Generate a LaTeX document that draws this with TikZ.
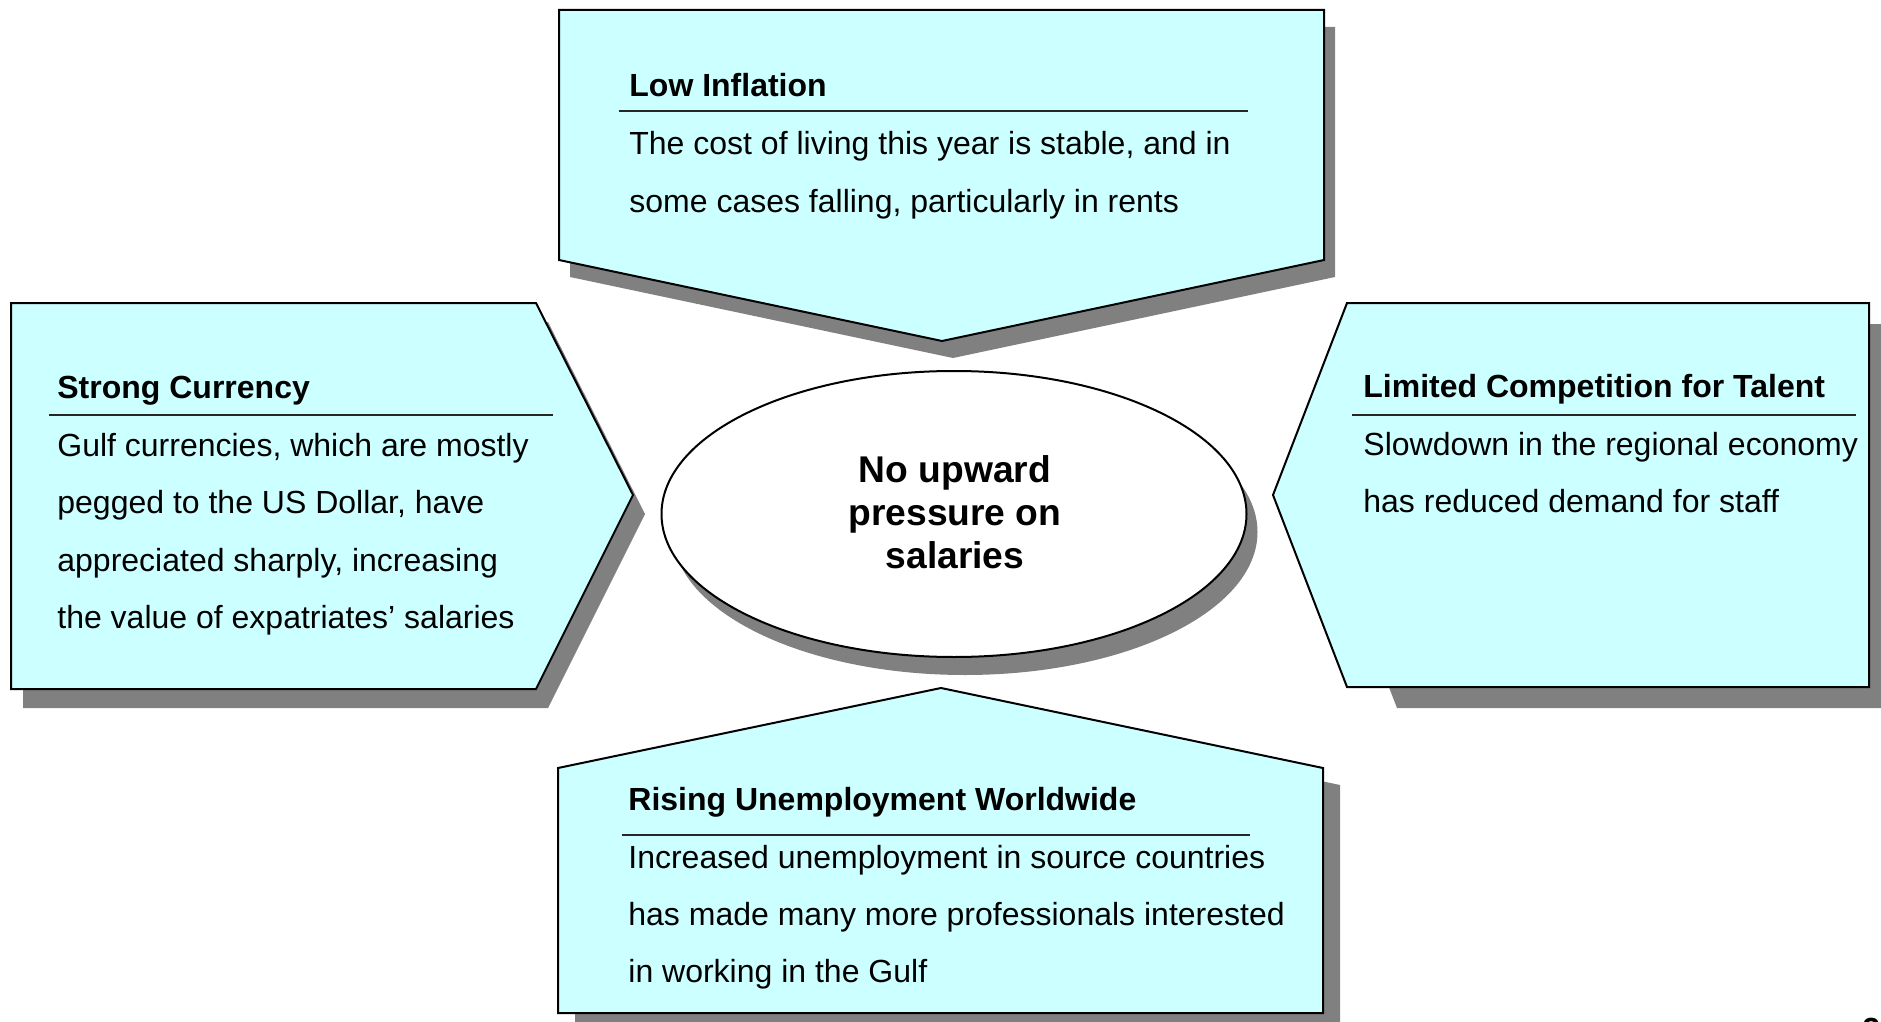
\documentclass[tikz,border=0pt]{standalone}
\usepackage{fontspec}
\setmainfont{Liberation Sans}
\definecolor{boxfill}{HTML}{CCFFFF}
\definecolor{shadowgray}{HTML}{808080}
\begin{document}
\begin{tikzpicture}[x=0.5pt,y=-0.5pt,
  boxshape/.style={fill=boxfill, draw=black, line width=1pt, line join=miter},
  shadowshape/.style={fill=shadowgray, draw=none},
  headtxt/.style={anchor=base west, inner sep=0pt, font=\bfseries\fontsize{16}{19}\selectfont},
  bodytxt/.style={anchor=base west, inner sep=0pt, font=\fontsize{16}{19}\selectfont},
  centertxt/.style={anchor=base, inner sep=0pt, font=\bfseries\fontsize{18.6}{22}\selectfont},
  rulestyle/.style={line width=0.8pt, draw=black!85}]
\useasboundingbox (0,0) rectangle (1881,1022);
\fill[white] (0,0) rectangle (1881,1022);

% ---- shadows ----
\fill[shadowshape, shift={(11,17)}] (559,10) -- (1324,10) -- (1324,260) -- (942,341) -- (559,260) -- cycle;
\fill[shadowshape, shift={(12,19)}] (11,303) -- (536,303) -- (633,495) -- (536,689) -- (11,689) -- cycle;
\fill[shadowshape, shift={(50,21)}] (1347,303) -- (1869,303) -- (1869,687) -- (1347,687) -- (1273,495) -- cycle;
\fill[shadowshape, shift={(17,17)}] (558,768) -- (941,688) -- (1323,768) -- (1323,1013) -- (558,1013) -- cycle;
\fill[shadowshape] (965,532) ellipse [x radius=146.25pt, y radius=71.5pt];

% ---- shapes ----
\draw[boxshape] (559,10) -- (1324,10) -- (1324,260) -- (942,341) -- (559,260) -- cycle;
\draw[boxshape] (11,303) -- (536,303) -- (633,495) -- (536,689) -- (11,689) -- cycle;
\draw[boxshape] (1347,303) -- (1869,303) -- (1869,687) -- (1347,687) -- (1273,495) -- cycle;
\draw[boxshape] (558,768) -- (941,688) -- (1323,768) -- (1323,1013) -- (558,1013) -- cycle;
\draw[fill=white, draw=black, line width=1pt] (954,514) ellipse [x radius=146.25pt, y radius=71.5pt];

% ---- top box text ----
\node[headtxt] (topH) at (629,97) {Low Inflation};
\draw[rulestyle] (619,111) -- (1248,111);
\node[bodytxt] (topB1) at (629,155) {The cost of living this year is stable, and in};
\node[bodytxt] (topB2) at (629,212.7) {some cases falling, particularly in rents};

% ---- left box text ----
\node[headtxt] (leftH) at (57,398) {Strong Currency};
\draw[rulestyle] (49,415) -- (553,415);
\node[bodytxt] (leftB1) at (57,456) {Gulf currencies, which are mostly};
\node[bodytxt] (leftB2) at (57,513.5) {pegged to the US Dollar, have};
\node[bodytxt] (leftB3) at (57,571) {appreciated sharply, increasing};
\node[bodytxt] (leftB4) at (57,628.5) {the value of expatriates’ salaries};

% ---- right box text ----
\node[headtxt] (rightH) at (1363,397) {Limited Competition for Talent};
\draw[rulestyle] (1352,415) -- (1856,415);
\node[bodytxt] (rightB1) at (1363,455) {Slowdown in the regional economy};
\node[bodytxt] (rightB2) at (1363,512) {has reduced demand for staff};

% ---- bottom box text ----
\node[headtxt] (botH) at (628,810) {Rising Unemployment Worldwide};
\draw[rulestyle] (622,835) -- (1250,835);
\node[bodytxt] (botB1) at (628,868) {Increased unemployment in source countries};
\node[bodytxt] (botB2) at (628,925) {has made many more professionals interested};
\node[bodytxt] (botB3) at (628,982) {in working in the Gulf};

% ---- center text ----
\node[centertxt] (ctr1) at (955,482) {No upward};
\node[centertxt] (ctr2) at (955,525) {pressure on};
\node[centertxt] (ctr3) at (955,568) {salaries};

% ---- page number (cut off) ----
\node[headtxt] (pagenum) at (1862,1040) {23};
\end{tikzpicture}
\end{document}
